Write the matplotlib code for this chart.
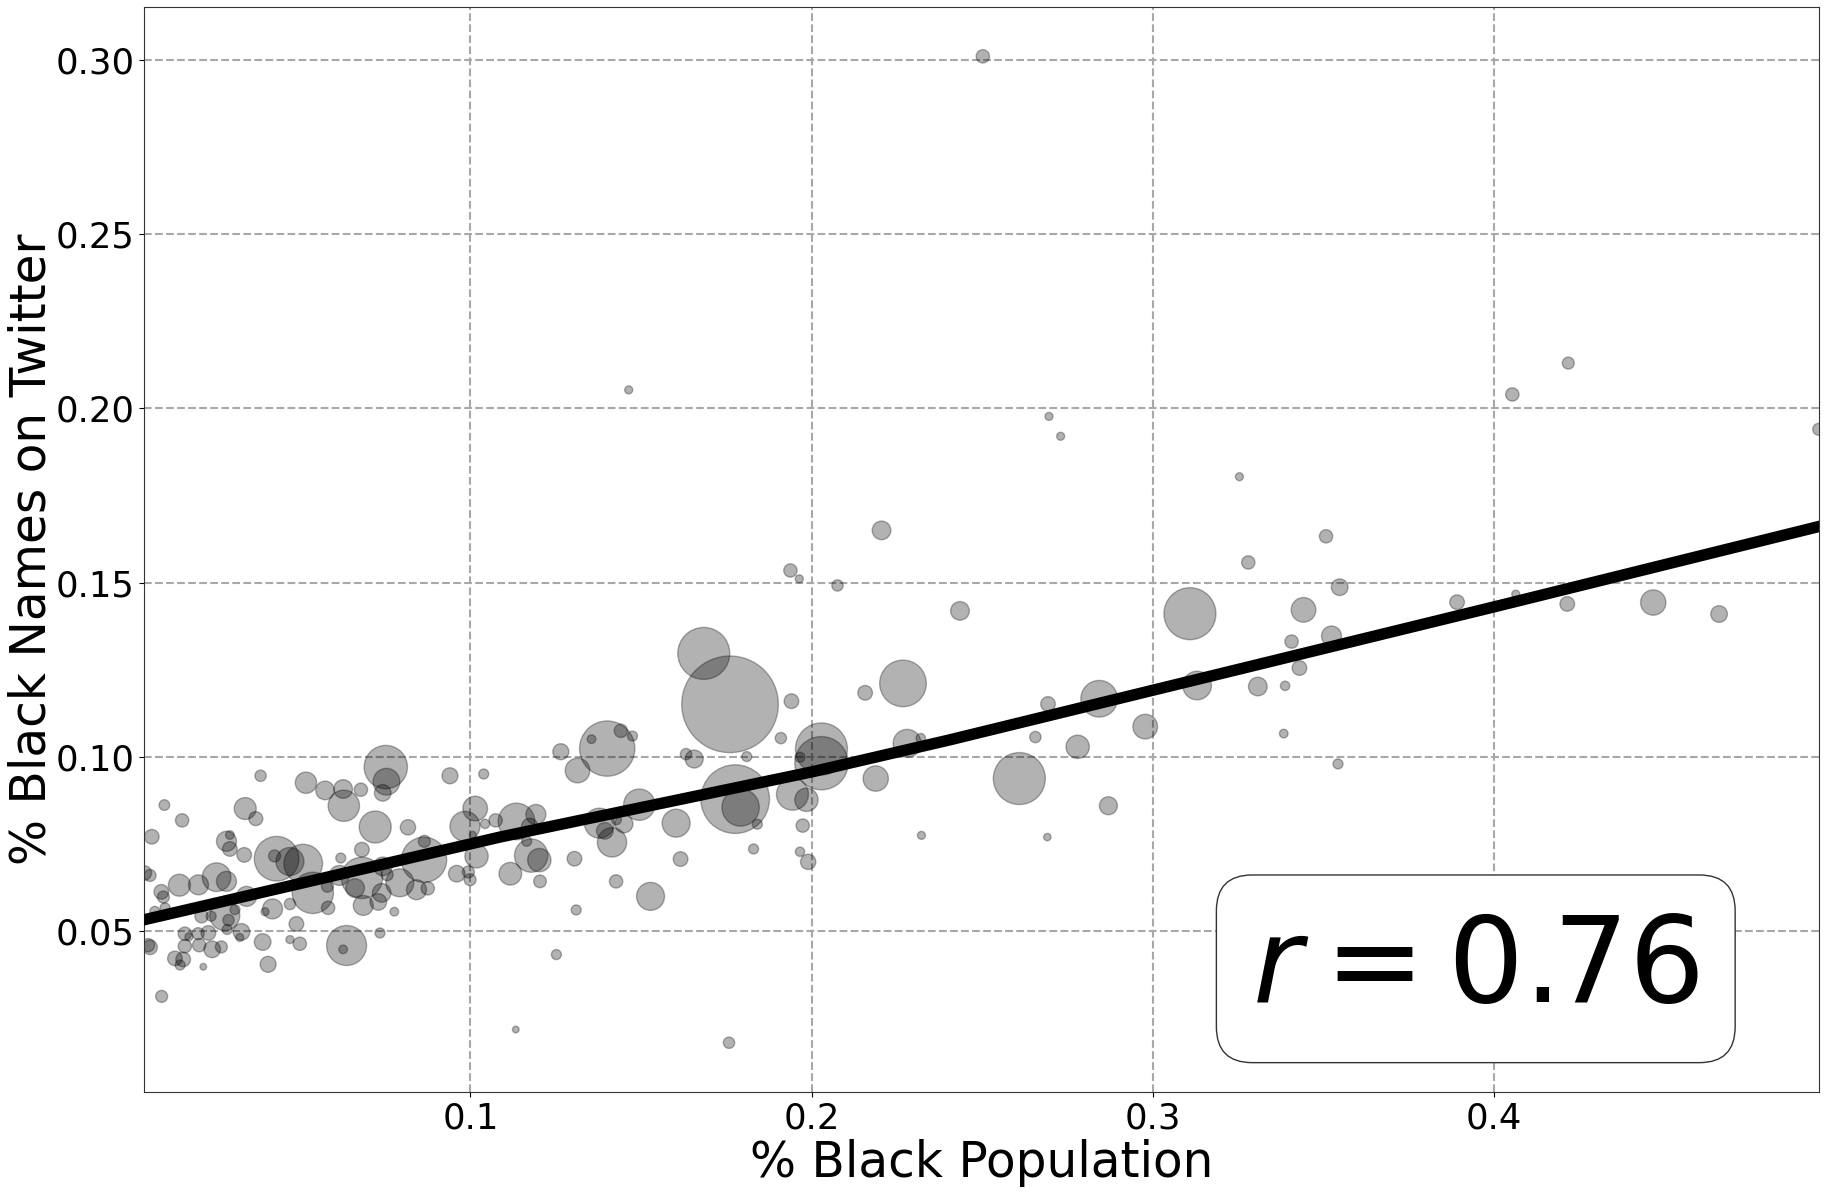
import numpy as np
import matplotlib
matplotlib.use("Agg")
import matplotlib.pyplot as plt

# --- data: (share black population, share black names on twitter, bubble size) ---
pct_black_pop = [
    0.0752, 0.0754, 0.0743, 0.0385, 0.0518, 0.0574, 0.0627, 0.0679, 0.0629, 0.0940,
    0.1039, 0.0103, 0.0155, 0.0340, 0.0371, 0.0066, 0.0721, 0.0817, 0.1014, 0.0984,
    0.1074, 0.1135, 0.1192, 0.1043, 0.0285, 0.0295, 0.0295, 0.0337, 0.0432, 0.0426,
    0.0471, 0.0510, 0.0061, 0.0147, 0.0203, 0.0256, 0.0285, 0.0094, 0.0100, 0.0105,
    0.0075, 0.0212, 0.0280, 0.0240, 0.0291, 0.0344, 0.0310, 0.0287, 0.0329, 0.0324,
    0.0398, 0.0420, 0.0471, 0.0490, 0.0538, 0.0581, 0.0583, 0.0616, 0.0620, 0.0682,
    0.0682, 0.0662, 0.0686, 0.0730, 0.0740, 0.0743, 0.0756, 0.0777, 0.0793, 0.0842,
    0.0865, 0.0864, 0.0875, 0.0735, 0.0637, 0.0627, 0.0471, 0.0500, 0.0391, 0.0407,
    0.0061, 0.0163, 0.0175, 0.0202, 0.0232, 0.0163, 0.0205, 0.0243, 0.0270, 0.0134,
    0.0158, 0.0149, 0.0217, 0.0095, 0.1133, 0.1018, 0.0960, 0.0994, 0.0999, 0.1117,
    0.1178, 0.1202, 0.1204, 0.1165, 0.1252, 0.1265, 0.1007,
    0.1938, 0.1964, 0.2076, 0.1684, 0.1761, 0.1941, 0.2157, 0.2268, 0.1910, 0.1810,
    0.2029, 0.2029, 0.1966, 0.2280, 0.2320, 0.2188, 0.1944, 0.1985, 0.1974, 0.1966,
    0.1990, 0.1776, 0.1792, 0.1841, 0.1830, 0.2322, 0.1656, 0.1632, 0.1401, 0.1355,
    0.1441, 0.1475, 0.1314, 0.1174, 0.1310, 0.1305, 0.1378, 0.1394, 0.1415, 0.1428,
    0.1450, 0.1495, 0.1427, 0.1528, 0.1603, 0.1616,
    0.3254, 0.3508, 0.3280, 0.2435, 0.3548, 0.3109, 0.3442, 0.3892, 0.4064, 0.4215,
    0.4467, 0.4660, 0.3524, 0.3407, 0.3430, 0.3388, 0.3308, 0.3130, 0.2843, 0.2693,
    0.2978, 0.3384, 0.2656, 0.2780, 0.2609, 0.2870, 0.3543, 0.2691,
    0.2502, 0.1464, 0.2696, 0.2730, 0.4054, 0.4218, 0.4952, 0.2205, 0.1758, 0.0044,
    0.0055,
]
pct_black_names = [
    0.0971, 0.0929, 0.0897, 0.0946, 0.0926, 0.0904, 0.0908, 0.0906, 0.0860, 0.0946,
    0.0951, 0.0862, 0.0818, 0.0852, 0.0823, 0.0771, 0.0799, 0.0798, 0.0852, 0.0801,
    0.0818, 0.0815, 0.0835, 0.0808, 0.0758, 0.0776, 0.0736, 0.0719, 0.0708, 0.0716,
    0.0700, 0.0694, 0.0660, 0.0632, 0.0633, 0.0655, 0.0643, 0.0613, 0.0598, 0.0567,
    0.0557, 0.0543, 0.0545, 0.0543, 0.0532, 0.0600, 0.0562, 0.0505, 0.0498, 0.0482,
    0.0556, 0.0564, 0.0578, 0.0521, 0.0610, 0.0629, 0.0567, 0.0660, 0.0710, 0.0734,
    0.0653, 0.0624, 0.0574, 0.0584, 0.0610, 0.0686, 0.0662, 0.0556, 0.0639, 0.0619,
    0.0758, 0.0705, 0.0623, 0.0495, 0.0459, 0.0448, 0.0476, 0.0464, 0.0469, 0.0405,
    0.0454, 0.0493, 0.0484, 0.0493, 0.0495, 0.0457, 0.0460, 0.0448, 0.0455, 0.0422,
    0.0419, 0.0403, 0.0398, 0.0313, 0.0218, 0.0715, 0.0665, 0.0670, 0.0648, 0.0665,
    0.0717, 0.0704, 0.0643, 0.0758, 0.0433, 0.1015, 0.0777,
    0.1535, 0.1511, 0.1492, 0.1297, 0.1151, 0.1160, 0.1184, 0.1211, 0.1054, 0.1001,
    0.1023, 0.0982, 0.0999, 0.1039, 0.1054, 0.0938, 0.0893, 0.0877, 0.0803, 0.0728,
    0.0699, 0.0879, 0.0855, 0.0807, 0.0736, 0.0775, 0.0994, 0.1008, 0.1024, 0.1051,
    0.1075, 0.1060, 0.0961, 0.0800, 0.0561, 0.0708, 0.0810, 0.0788, 0.0755, 0.0820,
    0.0808, 0.0863, 0.0643, 0.0600, 0.0810, 0.0707,
    0.1804, 0.1633, 0.1558, 0.1419, 0.1487, 0.1411, 0.1422, 0.1444, 0.1467, 0.1439,
    0.1443, 0.1410, 0.1347, 0.1331, 0.1255, 0.1204, 0.1202, 0.1205, 0.1167, 0.1152,
    0.1087, 0.1067, 0.1057, 0.1029, 0.0938, 0.0860, 0.0980, 0.0770,
    0.3010, 0.2053, 0.1977, 0.1920, 0.2040, 0.2130, 0.1940, 0.1650, 0.0180, 0.0667,
    0.0460,
]
# bubble radius (relative units)
bubble_radius = [
    65, 40, 25, 17, 32, 28, 28, 20, 47, 24,
    15, 16, 20, 33, 21, 22, 48, 23, 37, 45,
    20, 55, 30, 14, 30, 13, 22, 22, 67, 18,
    42, 58, 18, 33, 30, 43, 30, 22, 18, 15,
    15, 20, 45, 15, 17, 30, 15, 15, 25, 12,
    12, 30, 17, 22, 62, 18, 20, 30, 15, 22,
    62, 28, 30, 25, 28, 28, 18, 13, 42, 30,
    18, 68, 20, 15, 60, 13, 12, 20, 25, 24,
    22, 20, 12, 18, 22, 20, 20, 25, 18, 22,
    22, 15, 10, 18, 10, 35, 25, 18, 18, 34,
    50, 35, 19, 15, 15, 24, 10,
    20, 12, 17, 78, 145, 22, 22, 70, 17, 15,
    78, 80, 15, 42, 14, 38, 48, 35, 20, 14,
    23, 103, 56, 15, 15, 12, 27, 17, 83, 13,
    20, 15, 37, 25, 15, 22, 45, 25, 44, 15,
    27, 47, 20, 42, 42, 22,
    12, 20, 20, 28, 25, 78, 37, 22, 12, 22,
    38, 25, 30, 20, 22, 14, 28, 43, 55, 22,
    37, 13, 17, 35, 78, 27, 15, 11,
    20, 12, 12, 12, 20, 18, 18, 28, 17, 22,
    20,
]

# fitted trend line
fit_x = [0.0044, 0.1086, 0.2005, 0.2405, 0.4019, 0.4952]
fit_y = [0.0533, 0.0770, 0.0958, 0.1049, 0.1435, 0.1661]

r_label = r"$r = 0.76$"

x = np.array(pct_black_pop)
y = np.array(pct_black_names)
rad = np.array(bubble_radius, dtype=float)
sizes = 0.2304 * rad ** 2

fig = plt.figure(figsize=(18.26, 11.93), dpi=100)
ax = fig.add_axes([0.079, 0.0846, 0.917, 0.9095])

ax.grid(True, linestyle="--", color="#a8a8a8", linewidth=1.5)
ax.set_axisbelow(True)

ax.scatter(x, y, s=sizes, c="black", alpha=0.3, edgecolors="black", linewidths=1.0, zorder=2)
ax.plot(fit_x, fit_y, color="black", linewidth=8.2, zorder=3)

ax.set_xlim(x.min(), x.max())
ax.margins(y=0.05)

ax.set_xticks([0.1, 0.2, 0.3, 0.4])
ax.set_yticks([0.05, 0.10, 0.15, 0.20, 0.25, 0.30])
ax.set_yticklabels(["0.05", "0.10", "0.15", "0.20", "0.25", "0.30"])
ax.tick_params(labelsize=25.5)
for sp in ax.spines.values():
    sp.set_color("#333333")

ax.set_xlabel("% Black Population", fontsize=35, labelpad=2)
ax.set_ylabel("% Black Names on Twitter", fontsize=35, labelpad=0)

ax.text(0.7952, 0.1136, r_label, transform=ax.transAxes, fontsize=86,
        ha="center", va="center", zorder=5,
        bbox=dict(boxstyle="round,pad=0.3", facecolor="white", edgecolor="#333333", linewidth=1.0))

fig.savefig("out.png", dpi=100)
